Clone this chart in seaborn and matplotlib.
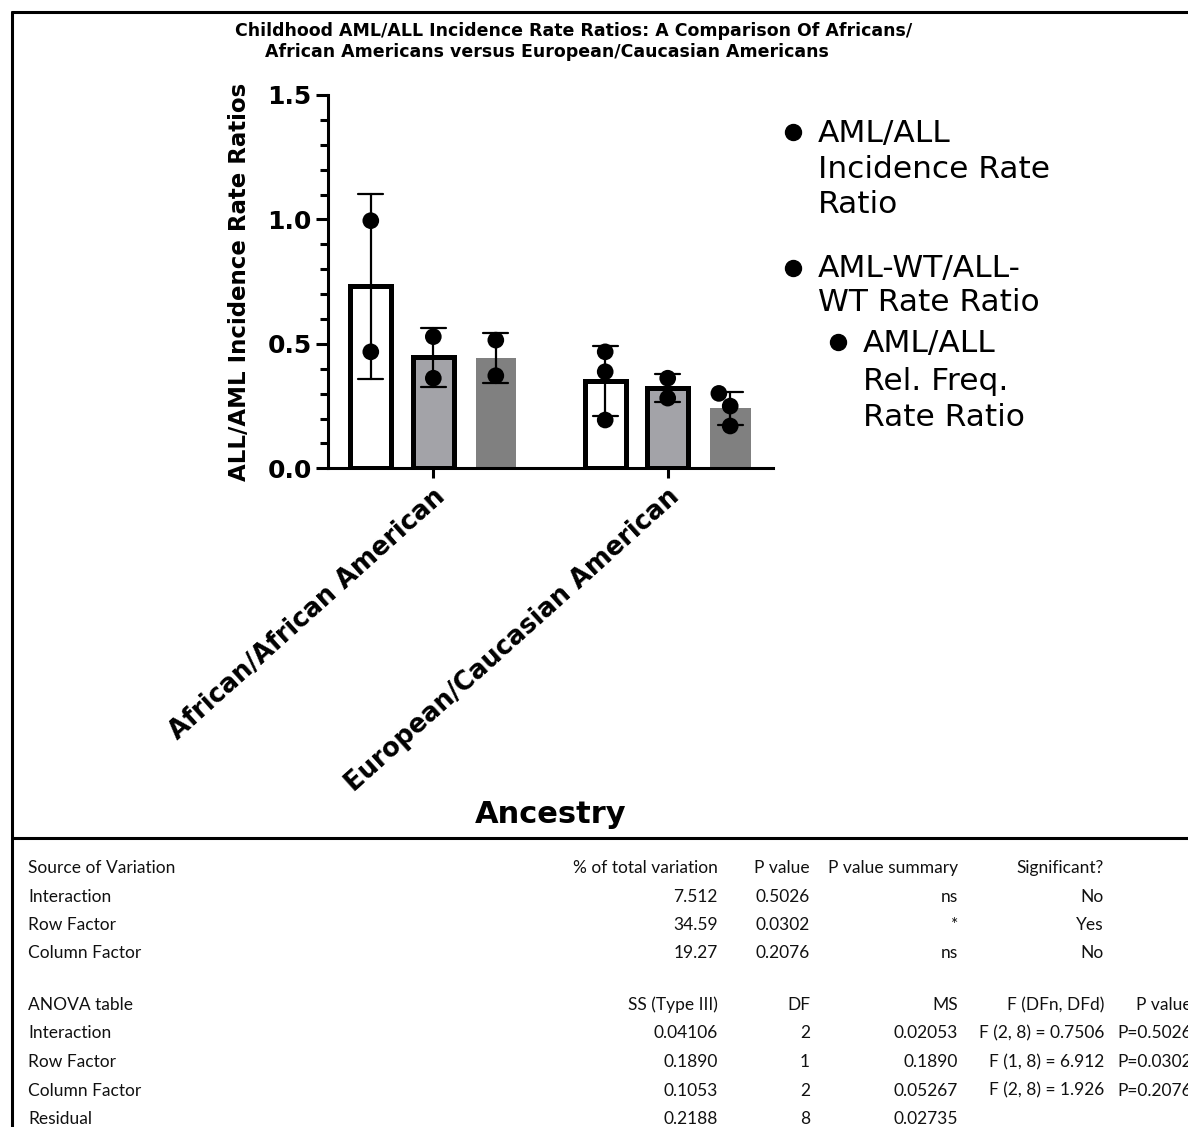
import numpy as np
import pandas as pd
import matplotlib
matplotlib.use("Agg")
import matplotlib.pyplot as plt
from matplotlib.lines import Line2D
from matplotlib.ticker import MultipleLocator
import seaborn as sns

# ---------------- data ----------------
ancestry = ["African/African American", "European/Caucasian American"]
series = ["AML/ALL Incidence Rate Ratio",
          "AML-WT/ALL-WT Rate Ratio",
          "AML/ALL Rel. Freq. Rate Ratio"]
legend_lines = [["AML/ALL", "Incidence Rate", "Ratio"],
                ["AML-WT/ALL-", "WT Rate Ratio"],
                ["AML/ALL", "Rel. Freq.", "Rate Ratio"]]

afr_incidence = [0.995, 0.468]
afr_wt = [0.529, 0.362]
afr_relfreq = [0.515, 0.372]
eur_incidence = [0.468, 0.388, 0.194]
eur_wt = [0.362, 0.282]
eur_relfreq = [0.301, 0.250, 0.170]

bar_colors = ["#ffffff", "#a3a3a8", "#808080"]

title_line1 = "Childhood AML/ALL Incidence Rate Ratios: A Comparison Of Africans/"
title_line2 = "African Americans versus European/Caucasian Americans"
y_label = "ALL/AML Incidence Rate Ratios"
x_label = "Ancestry"
y_ticks = [0.0, 0.5, 1.0, 1.5]

table1_header = ["Source of Variation", "% of total variation", "P value",
                 "P value summary", "Significant?"]
table1_rows = [
    ["Interaction", "7.512", "0.5026", "ns", "No"],
    ["Row Factor", "34.59", "0.0302", "*", "Yes"],
    ["Column Factor", "19.27", "0.2076", "ns", "No"],
]
table2_header = ["ANOVA table", "SS (Type III)", "DF", "MS", "F (DFn, DFd)", "P value"]
table2_rows = [
    ["Interaction", "0.04106", "2", "0.02053", "F (2, 8) = 0.7506", "P=0.5026"],
    ["Row Factor", "0.1890", "1", "0.1890", "F (1, 8) = 6.912", "P=0.0302"],
    ["Column Factor", "0.1053", "2", "0.05267", "F (2, 8) = 1.926", "P=0.2076"],
    ["Residual", "0.2188", "8", "0.02735", "", ""],
]

# ---------------- long table ----------------
groups = {ancestry[0]: [afr_incidence, afr_wt, afr_relfreq],
          ancestry[1]: [eur_incidence, eur_wt, eur_relfreq]}
records = []
for anc, vals_list in groups.items():
    for s, vals in zip(series, vals_list):
        for v in vals:
            records.append({"Ancestry": anc, "Series": s, "Ratio": v})
df = pd.DataFrame(records)

# ---------------- figure ----------------
sns.set_style("ticks")
plt.rcParams["font.family"] = ["DejaVu Sans"]
for k in ["text.color", "axes.labelcolor", "xtick.color", "ytick.color",
          "axes.edgecolor"]:
    plt.rcParams[k] = "black"

W, H = 1188, 1127
fig = plt.figure(figsize=(W / 100, H / 100), dpi=100)


def fx(x):
    return x / W


def fy(y):
    return 1 - y / H


ax_l, ax_r, ax_t, ax_b = 328.3, 773.3, 95.0, 468.3
ax = fig.add_axes([fx(ax_l), fy(ax_b), fx(ax_r - ax_l), (ax_b - ax_t) / H])

sns.barplot(data=df, x="Ancestry", y="Ratio", hue="Series",
            order=ancestry, hue_order=series, palette=bar_colors,
            saturation=1, errorbar="sd", capsize=0.32,
            err_kws={"color": "black", "linewidth": 1.6},
            width=0.8, gap=0.35, linewidth=0, legend=False, ax=ax)
for i, cont in enumerate(ax.containers):
    for p in cont:
        if i < 2:
            p.set_edgecolor("black")
            p.set_linewidth(3.6)
        else:
            p.set_linewidth(0)

sns.swarmplot(data=df, x="Ancestry", y="Ratio", hue="Series",
              order=ancestry, hue_order=series, palette=["black"] * 3,
              dodge=True, size=12, linewidth=0, legend=False, ax=ax, zorder=4)

ax.set_xlim(-0.448, 1.4505)
ax.set_ylim(0, 1.5)
ax.set_yticks(y_ticks)
ax.yaxis.set_minor_locator(MultipleLocator(0.1))
ax.set_yticklabels([f"{t:.1f}" for t in y_ticks], fontsize=18, fontweight="bold")
ax.set_xticks([0, 1])
ax.set_xticklabels(ancestry, rotation=42, ha="right", rotation_mode="anchor",
                   fontsize=18.5, fontweight="bold")
ax.tick_params(axis="y", which="major", length=8.5, width=2.2, pad=3.5)
ax.tick_params(axis="y", which="minor", length=6, width=2.2)
ax.tick_params(axis="x", which="major", length=7, width=2.2, pad=4)
ax.tick_params(axis="x", which="minor", length=0)

for side in ["top", "right"]:
    ax.spines[side].set_visible(False)
for side in ["left", "bottom"]:
    ax.spines[side].set_linewidth(2.2)

ax.set_ylabel(y_label, fontsize=16.5, fontweight="bold", labelpad=12)
ax.set_xlabel(x_label, fontsize=22, fontweight="bold")
ax.xaxis.set_label_coords(0.5, (ax_b - 823) / (ax_b - ax_t))
ax.xaxis.label.set_va("baseline")

# ---------------- title ----------------
fig.text(fx(235), fy(57), title_line1 + "\n" + "     " + title_line2,
         fontsize=12.5, fontweight="bold", ha="left", va="baseline",
         linespacing=1.25)

# ---------------- legend ----------------
leg_markers = [(793, 132), (793, 268), (838, 342)]
leg_text_x = [818, 818, 863]
leg_baselines = [[141.7, 177.5, 213], [277, 311], [352, 390, 426]]
for mk, tx, bases, lines in zip(leg_markers, leg_text_x, leg_baselines, legend_lines):
    fig.add_artist(Line2D([fx(mk[0])], [fy(mk[1])], marker="o", markersize=11.5,
                          color="black", linestyle="none",
                          transform=fig.transFigure))
    for yb, line in zip(bases, lines):
        fig.text(fx(tx), fy(yb), line, fontsize=22.5, ha="left", va="baseline")

# ---------------- frame lines ----------------
frame_kw = dict(transform=fig.transFigure, color="black", linewidth=2.2)
fig.add_artist(Line2D([fx(11.7), 1], [fy(12), fy(12)], **frame_kw))
fig.add_artist(Line2D([fx(11.7), fx(11.7)], [fy(12), 0], **frame_kw))
fig.add_artist(Line2D([fx(11.7), 1], [fy(838.3), fy(838.3)], **frame_kw))

# ---------------- results tables ----------------
tab_font = dict(family=["Lato", "DejaVu Sans"], fontsize=12.5, color="#111111")
col1_x = [28.3, 718, 810, 958, 1104]
col2_x = [28.3, 718, 810, 958, 1104, 1192]
t1_base = [873, 901.5, 930, 958.5]
t2_base = [1010, 1038.5, 1067, 1095.5, 1124]


def draw_row(cells, xs, ybase):
    for j, (c, x) in enumerate(zip(cells, xs)):
        if c:
            fig.text(fx(x), fy(ybase), c, ha="left" if j == 0 else "right",
                     va="baseline", **tab_font)


for cells, yb in zip([table1_header] + table1_rows, t1_base):
    draw_row(cells, col1_x, yb)
for cells, yb in zip([table2_header] + table2_rows, t2_base):
    draw_row(cells, col2_x, yb)

fig.savefig("out.png", dpi=100)
